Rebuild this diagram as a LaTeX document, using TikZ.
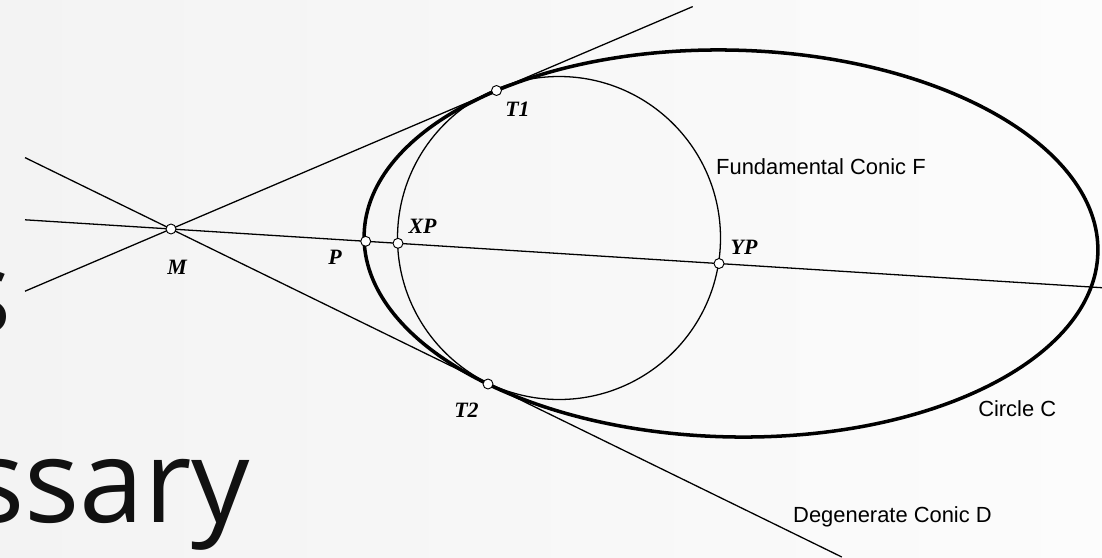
\documentclass[tikz,border=0pt]{standalone}
\usepackage{fontspec}
\setmainfont{Liberation Serif}
\setsansfont{Liberation Sans}
\newfontfamily\bigfont{Open Sans}
\definecolor{bgL}{HTML}{F3F3F3}
\definecolor{bgR}{HTML}{FCFCFC}
\definecolor{ink}{HTML}{111111}
\begin{document}
\begin{tikzpicture}[x=0.03cm,y=-0.03cm,
  thinline/.style={line width=1.1pt, draw=black},
  thickline/.style={line width=3pt, draw=black},
  ptmark/.style={circle, draw=black, fill=white, line width=0.8pt, inner sep=0pt, minimum size=8.5pt},
  ptlabel/.style={font=\fontsize{18.7}{22}\selectfont\bfseries\itshape, inner sep=0pt},
  caption/.style={font=\sffamily\fontsize{18.7}{22}\selectfont, inner sep=0pt, anchor=base west},
  bigtext/.style={font=\bigfont\fontsize{99}{99}\selectfont, text=ink, inner sep=0pt, anchor=base west}]
\useasboundingbox (0,0) rectangle (1102,557);
\clip (0,0) rectangle (1102,557);
\shade[left color=bgL, right color=bgR] (0,0) rectangle (1102,557);

% large slide text, cut by the left edge
\node[bigtext] (bigs) at (-44,333) {s};
\node[bigtext] (bigssary) at (-31,522) {ssary};

% key points
\coordinate (m) at (171,229);
\coordinate (p) at (365.7,241.3);
\coordinate (xp) at (398,243.3);
\coordinate (yp) at (719,263.5);
\coordinate (t1) at (496.5,90.5);
\coordinate (t2) at (488,384);

% free line ends
\coordinate (a1) at (25,291.2);
\coordinate (b1) at (692.7,6.6);
\coordinate (a2) at (25,157.6);
\coordinate (b2) at (841.8,557);
\coordinate (a3) at (25,219.8);
\coordinate (b3) at (1102,287.7);

% degenerate conic D (two lines through M) and the line M P
\draw[thinline] (a1) -- (b1);
\draw[thinline] (a2) -- (b2);
\draw[thinline] (a3) -- (b3);

% Circle C (thick ellipse)
\draw[thickline, rotate around={-1.4:(731,243.5)}] (731,243.5) ellipse [x radius=367, y radius=193.4];

% Fundamental conic F
\draw[thinline] (559,238) circle [radius=161.5];

% point markers
\node[ptmark] (M) at (m) {};
\node[ptmark] (P) at (p) {};
\node[ptmark] (XP) at (xp) {};
\node[ptmark] (YP) at (yp) {};
\node[ptmark] (T1) at (t1) {};
\node[ptmark] (T2) at (t2) {};

% point labels
\node[ptlabel] (Mlab) at (177,267) {M};
\node[ptlabel] (Plab) at (335,257) {P};
\node[ptlabel] (XPlab) at (422.5,226) {XP};
\node[ptlabel] (YPlab) at (744,247) {YP};
\node[ptlabel] (T1lab) at (517.5,109.3) {T1};
\node[ptlabel] (T2lab) at (466.5,410) {T2};

% captions
\node[caption] (capF) at (716,174) {Fundamental Conic F};
\node[caption] (capC) at (978,416.7) {Circle C};
\node[caption] (capD) at (793,522.3) {Degenerate Conic D};
\end{tikzpicture}
\end{document}
